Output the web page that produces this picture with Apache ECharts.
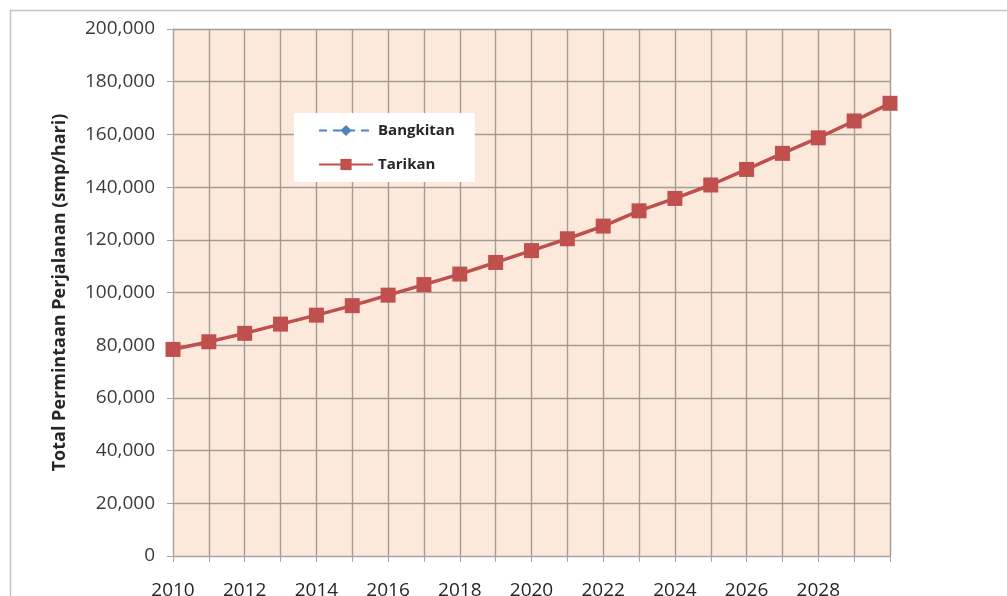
<!DOCTYPE html>
<html>
<head>
<meta charset="utf-8">
<script src="https://cdn.jsdelivr.net/npm/echarts@6/dist/echarts.min.js"></script>
<style>
html,body{margin:0;padding:0;background:#fff;}
#c{width:1007px;height:596px;}
</style>
</head>
<body>
<div id="c"></div>
<script>
const years = [2010,2011,2012,2013,2014,2015,2016,2017,2018,2019,2020,2021,2022,2023,2024,2025,2026,2027,2028,2029,2030];
const tarikan = [78400,81300,84500,88000,91400,95000,99000,103000,107000,111400,115900,120400,125200,131000,135700,140800,146700,152800,158700,165100,171800];
const bangkitan = [78400,81300,84500,88000,91400,95000,99000,103000,107000,111400,115900,120400,125200,131000,135700,140800,146700,152800,158700,165100,171800];
const yTitle = 'Total Permintaan Perjalanan (smp/hari)';

const chart = echarts.init(document.getElementById('c'));
const font = 'Open Sans';
chart.setOption({
  animation: false,
  backgroundColor: '#fff',
  textStyle: {fontFamily: font},
  graphic: [
    {type:'rect', left: 8, top: 8, shape:{width: 1100, height: 700}, style:{fill:'none', stroke:'#c4c4c4', lineWidth:1.5}, z: 0}
  ],
  grid: {left: 173, top: 29, right: 117, bottom: 40, show: true, backgroundColor: '#FDE9DB', borderWidth: 0,
    containLabel: false, outerBoundsMode: 'none'},
  legend: {
    orient: 'vertical', left: 294, top: 113,
    backgroundColor: '#ffffff', padding: [10, 20, 10, 24], itemGap: 19,
    itemWidth: 54, itemHeight: 14,
    textStyle: {fontFamily: font, fontSize: 15, fontWeight: 'bold', color: '#262626'},
    data: ['Bangkitan', 'Tarikan']
  },
  xAxis: {
    type: 'value', min: 2010, max: 2030, interval: 1,
    axisLine: {show: true, lineStyle: {color: '#a6a6a6', width: 1}},
    axisTick: {show: true, inside: false, length: 6, lineStyle: {color: '#a6a6a6'}},
    axisLabel: {margin: 25, fontSize: 19, color: '#262626', fontFamily: font,
      formatter: v => (v % 2 === 0 && v < 2030) ? String(v) : ''},
    splitLine: {show: true, lineStyle: {color: '#a39c95', width: 1.4}}
  },
  yAxis: {
    type: 'value', min: 0, max: 200000, interval: 20000,
    name: yTitle, nameLocation: 'middle', nameGap: 104, nameRotate: 90,
    nameTextStyle: {fontSize: 18, fontWeight: 'bold', color: '#262626', fontFamily: font},
    axisLine: {show: true, lineStyle: {color: '#a6a6a6', width: 1}},
    axisTick: {show: true, inside: false, length: 6, lineStyle: {color: '#a6a6a6'}},
    axisLabel: {margin: 18, fontSize: 19, color: '#3a3a3a', fontFamily: font,
      formatter: v => v.toLocaleString('en-US')},
    splitLine: {show: true, lineStyle: {color: '#a39c95', width: 1.4}}
  },
  series: [
    {
      name: 'Bangkitan', type: 'line',
      data: years.map((y, i) => [y, bangkitan[i]]),
      symbol: 'diamond', symbolSize: 10,
      lineStyle: {color: '#4F81BD', width: 2.5, type: [8, 6]},
      itemStyle: {color: '#4F81BD'},
      z: 2
    },
    {
      name: 'Tarikan', type: 'line',
      data: years.map((y, i) => [y, tarikan[i]]),
      symbol: 'rect', symbolSize: 15,
      lineStyle: {color: '#C0504D', width: 3.5},
      itemStyle: {color: '#C0504D'},
      z: 3
    }
  ]
});
</script>
</body>
</html>
